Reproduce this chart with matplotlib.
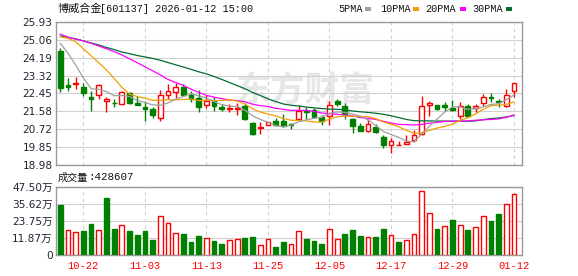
import matplotlib
matplotlib.use("Agg")
import matplotlib.pyplot as plt
from matplotlib.patches import Rectangle
import numpy as np

# ---------------- data ----------------
dates = ["10-17", "10-20", "10-21", "10-22", "10-23", "10-24", "10-27", "10-28", "10-29", "10-30",
         "10-31", "11-03", "11-04", "11-05", "11-06", "11-07", "11-10", "11-11", "11-12", "11-13",
         "11-14", "11-17", "11-18", "11-19", "11-20", "11-21", "11-24", "11-25", "11-26", "11-27",
         "11-28", "12-01", "12-02", "12-03", "12-04", "12-05", "12-08", "12-09", "12-10", "12-11",
         "12-12", "12-15", "12-16", "12-17", "12-18", "12-19", "12-22", "12-23", "12-24", "12-25",
         "12-26", "12-29", "12-30", "12-31", "01-05", "01-06", "01-07", "01-08", "01-09", "01-12"]
label_dates = ["10-22", "11-03", "11-13", "11-25", "12-05", "12-17", "12-29", "01-12"]

opens = [24.51, 22.86, 22.89, 22.76, 22.28, 22.37, 22.07, 22.00, 21.95, 22.47,
         22.00, 21.81, 21.68, 21.27, 22.39, 22.54, 22.75, 22.39, 22.25, 21.87,
         22.10, 21.78, 21.71, 21.71, 21.84, 21.00, 20.77, 20.94, 21.11, 21.10,
         20.95, 21.19, 21.60, 21.65, 21.29, 21.36, 22.08, 21.84, 21.21, 20.89,
         20.64, 20.81, 20.35, 19.93, 19.93, 20.01, 20.18, 20.47, 21.89, 21.89,
         21.87, 21.76, 21.37, 21.84, 21.76, 21.97, 22.29, 22.08, 21.82, 22.57]
highs = [24.64, 23.18, 23.23, 22.94, 22.57, 22.91, 22.29, 22.18, 22.55, 22.52,
         22.32, 22.08, 21.78, 22.63, 22.91, 22.97, 22.91, 22.57, 22.62, 22.37,
         22.26, 21.92, 21.92, 22.00, 21.99, 21.08, 21.08, 21.08, 21.24, 21.45,
         21.03, 21.89, 21.78, 21.73, 21.40, 22.10, 22.16, 21.97, 21.26, 21.00,
         21.19, 20.97, 20.43, 20.27, 20.16, 20.43, 20.68, 22.33, 22.10, 21.89,
         22.05, 22.13, 22.05, 21.94, 21.92, 22.42, 22.49, 22.16, 22.66, 22.94]
lows = [22.54, 22.58, 22.66, 22.31, 21.61, 22.16, 21.57, 21.78, 21.94, 21.92,
        21.87, 21.13, 21.24, 21.13, 22.20, 22.24, 22.31, 22.05, 21.57, 21.73,
        21.61, 21.61, 21.57, 21.40, 21.16, 20.43, 20.48, 20.90, 20.87, 20.81,
        20.74, 21.11, 21.19, 21.24, 20.92, 20.92, 21.84, 21.21, 20.55, 20.64,
        20.60, 20.55, 19.82, 19.58, 19.93, 19.98, 20.10, 20.43, 21.37, 21.65,
        21.61, 21.61, 21.19, 21.32, 21.57, 21.84, 22.05, 21.78, 21.78, 22.26]
closes = [22.73, 22.74, 22.97, 22.49, 22.20, 22.86, 22.18, 21.97, 22.52, 21.97,
          21.90, 21.71, 21.40, 22.36, 22.58, 22.78, 22.36, 22.16, 21.78, 22.10,
          21.84, 21.68, 21.73, 21.75, 21.19, 20.48, 20.81, 21.05, 20.92, 20.89,
          20.91, 21.61, 21.53, 21.29, 21.13, 21.87, 21.94, 21.44, 20.87, 20.64,
          20.97, 20.60, 19.95, 20.14, 19.94, 20.10, 20.43, 21.84, 21.99, 21.70,
          21.81, 21.65, 21.86, 21.37, 21.86, 22.26, 22.24, 22.03, 22.36, 22.94]

ma5 = [24.88, 24.40, 23.83, 23.20, 22.68, 22.65, 22.54, 22.34, 22.35, 22.30,
       22.11, 22.01, 21.90, 21.87, 21.99, 22.17, 22.30, 22.45, 22.33, 22.24,
       22.05, 21.91, 21.83, 21.82, 21.64, 21.37, 21.19, 21.06, 20.89, 20.83,
       20.92, 21.08, 21.17, 21.25, 21.29, 21.49, 21.55, 21.53, 21.45, 21.35,
       21.17, 20.90, 20.61, 20.46, 20.32, 20.14, 20.11, 20.49, 20.86, 21.21,
       21.55, 21.80, 21.80, 21.68, 21.71, 21.80, 21.92, 21.95, 22.15, 22.37]
ma10 = [25.20, 25.12, 24.96, 24.62, 24.28, 23.94, 23.59, 23.18, 22.75, 22.42,
        22.30, 22.22, 22.12, 22.11, 22.15, 22.14, 22.16, 22.18, 22.10, 22.12,
        22.11, 22.11, 22.14, 22.08, 21.94, 21.71, 21.55, 21.45, 21.36, 21.24,
        21.15, 21.14, 21.12, 21.07, 21.06, 21.21, 21.32, 21.35, 21.35, 21.32,
        21.33, 21.23, 21.07, 20.96, 20.84, 20.66, 20.51, 20.55, 20.66, 20.77,
        20.85, 20.96, 21.15, 21.27, 21.46, 21.68, 21.86, 21.88, 21.92, 22.04]
ma20 = [25.33, 25.18, 25.08, 25.00, 24.88, 24.75, 24.62, 24.48, 24.32, 24.13,
        23.94, 23.75, 23.55, 23.35, 23.13, 22.98, 22.84, 22.66, 22.50, 22.36,
        22.27, 22.20, 22.13, 22.10, 22.05, 21.93, 21.86, 21.82, 21.73, 21.68,
        21.63, 21.63, 21.63, 21.58, 21.50, 21.46, 21.44, 21.40, 21.36, 21.28,
        21.24, 21.19, 21.10, 21.02, 20.95, 20.94, 20.92, 20.95, 21.01, 21.05,
        21.09, 21.10, 21.11, 21.12, 21.15, 21.17, 21.19, 21.22, 21.29, 21.41]
ma30 = [25.24, 25.17, 25.10, 25.00, 24.90, 24.80, 24.68, 24.58, 24.46, 24.38,
        24.29, 24.22, 24.15, 24.06, 23.95, 23.84, 23.73, 23.62, 23.50, 23.40,
        23.27, 23.13, 22.98, 22.83, 22.68, 22.50, 22.35, 22.19, 22.06, 21.94,
        21.88, 21.84, 21.79, 21.75, 21.72, 21.69, 21.68, 21.66, 21.60, 21.56,
        21.53, 21.49, 21.44, 21.37, 21.28, 21.19, 21.13, 21.12, 21.12, 21.11,
        21.11, 21.11, 21.11, 21.10, 21.12, 21.18, 21.23, 21.26, 21.31, 21.38]

volumes = [34.9, 17.2, 15.8, 16.8, 21.7, 17.2, 39.8, 18.2, 20.7, 16.5,
           14.0, 16.5, 10.5, 27.0, 22.1, 15.1, 14.7, 9.1, 13.3, 11.6,
           9.8, 7.7, 10.2, 10.9, 11.9, 12.6, 6.8, 10.9, 5.6, 9.1,
           7.4, 16.5, 11.2, 9.8, 7.7, 17.9, 10.9, 14.7, 17.5, 13.3,
           12.6, 12.6, 18.2, 13.7, 9.1, 10.2, 14.4, 44.5, 29.1, 18.2,
           20.0, 24.4, 20.7, 17.5, 19.3, 27.0, 23.7, 28.6, 35.4, 42.86]

price_ticks = [18.98, 19.85, 20.72, 21.58, 22.45, 23.32, 24.19, 25.06, 25.93]
vol_ticks = [0, 11.87, 23.75, 35.62, 47.50]
vol_tick_labels = ["0", "11.87万", "23.75万", "35.62万", "47.50万"]

title_cn = "博威合金"
title_rest = "[601137] 2026-01-12 15:00"
vol_label_cn = "成交量"
vol_label_val = ":428607"
ma_names = ["5PMA", "10PMA", "20PMA", "30PMA"]

# ---------------- style ----------------
RED = "#ff0000"
GREEN = "#008000"
GRID = "#d0d0d0"
FRAME = "#999999"
TXT = "#222233"
ma_colors = ["#a0a0a0", "#f0a000", "#ff00ff", "#006e30"]

W, H = 578, 276
fig = plt.figure(figsize=(W / 100, H / 100), dpi=100)
fig.patch.set_facecolor("white")

L, R = 56, 522
ax = fig.add_axes([L / W, (H - 165) / H, (R - L) / W, 143.3 / H])
axv = fig.add_axes([L / W, (H - 255) / H, (R - L) / W, 68 / H])

x = np.arange(len(dates))
xlim = (-0.56, len(dates) + 0.04)
label_pos = [dates.index(d) for d in label_dates]

for a in (ax, axv):
    a.set_xlim(*xlim)
    for s in a.spines.values():
        s.set_color(FRAME)
        s.set_linewidth(1.0)
    a.set_axisbelow(True)
    a.tick_params(axis="both", length=0, colors=TXT)
    for p in label_pos:
        a.axvline(p, color=GRID, linewidth=0.8, linestyle=(0, (3, 3)), zorder=0.5)

# ---- price panel ----
ax.set_ylim(price_ticks[0], price_ticks[-1])
ax.set_yticks(price_ticks)
ax.set_yticklabels([f"{t:.2f}" for t in price_ticks], fontsize=7.6,
                   family="DejaVu Sans", color=TXT)
ax.tick_params(axis="y", pad=2.5)
ax.yaxis.grid(True, color=GRID, linewidth=0.8, zorder=0.5)
ax.set_xticks([])

# watermark
ax.text(0.535, 0.52, "东方财富", transform=ax.transAxes, fontsize=25,
        family="Noto Sans CJK SC", weight="bold", color="#e7e7ea",
        ha="center", va="center", zorder=0.3)

bw = 0.62
for i in x:
    o, h, l, c = opens[i], highs[i], lows[i], closes[i]
    up = c >= o
    col = RED if up else GREEN
    top, bot = max(o, c), min(o, c)
    ax.vlines(i, top, h, color=col, linewidth=1.0, zorder=2)
    ax.vlines(i, l, bot, color=col, linewidth=1.0, zorder=2)
    hgt = max(top - bot, 0.015)
    if up:
        ax.bar(i, hgt, bottom=bot, width=bw, facecolor="white", edgecolor=col,
               linewidth=1.0, zorder=3)
    else:
        ax.bar(i, hgt, bottom=bot, width=bw, facecolor=col, edgecolor=col,
               linewidth=1.0, zorder=3)

for vals, colr in zip([ma30, ma20, ma10, ma5], ma_colors[::-1]):
    ax.plot(x, vals, color=colr, linewidth=0.9, zorder=4)

# ---- volume panel ----
axv.set_ylim(vol_ticks[0], vol_ticks[-1])
axv.set_yticks(vol_ticks)
axv.set_yticklabels(vol_tick_labels, fontsize=7.6,
                    family=["DejaVu Sans", "Noto Sans CJK SC"], color=TXT)
axv.tick_params(axis="y", pad=2.5)
axv.yaxis.grid(True, color=GRID, linewidth=0.8, zorder=0.5)
axv.set_xticks(label_pos)
axv.set_xticklabels(label_dates, fontsize=7.5, family="Liberation Mono", color=RED)
axv.tick_params(axis="x", pad=4.5, colors=RED)

for i in x:
    prev = closes[i - 1] if i > 0 else opens[i]
    up = closes[i] >= prev
    col = RED if up else GREEN
    if up:
        axv.bar(i, volumes[i], width=bw, facecolor="white", edgecolor=col,
                linewidth=1.0, zorder=3)
    else:
        axv.bar(i, volumes[i], width=bw, facecolor=col, edgecolor=col,
                linewidth=1.0, zorder=3)

# ---- header texts ----
def ftext(px, py, s, **kw):
    fig.text(px / W, 1 - py / H, s, **kw)

ftext(57, 8.5, title_cn, fontsize=8, family="Noto Sans CJK SC", color="#111111", va="center")
ftext(100, 8.5, title_rest, fontsize=7.3, family="Liberation Mono", color="#111111", va="center")

leg_x = [338, 380, 425, 472]
sq_x = [365, 413, 460, 506]
for name, lx, sx, colr in zip(ma_names, leg_x, sq_x, ma_colors):
    ftext(lx, 8.8, name, fontsize=7.3, family="Liberation Mono", color="#111111", va="center")
    fig.patches.append(Rectangle((sx / W, 1 - 10.5 / H), 6 / W, 3.5 / H,
                                 transform=fig.transFigure, facecolor=colr,
                                 edgecolor="none"))

ftext(58, 177.5, vol_label_cn, fontsize=7.3, family="Noto Sans CJK SC", color="#111111", va="center")
ftext(88, 177.5, vol_label_val, fontsize=7.8, family="Liberation Mono", color="#111111", va="center")

fig.savefig("out.png", dpi=100, facecolor="white")
